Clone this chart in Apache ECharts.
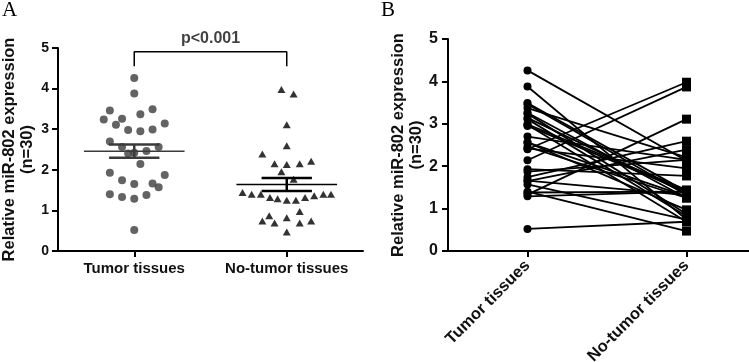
<!DOCTYPE html>
<html>
<head>
<meta charset="utf-8">
<script src="https://cdn.jsdelivr.net/npm/echarts@6/dist/echarts.min.js"></script>
<style>
html, body { margin: 0; padding: 0; background: #fff; }
#main { width: 749px; height: 362px; }
</style>
</head>
<body>
<div id="main"></div>
<script>
// values (30 paired samples)
var categories = ['Tumor tissues', 'No-tumor tissues'];
var tumorValues = [4.26, 3.88, 3.46, 3.49, 3.37, 3.24, 3.26, 3.11, 3.14, 2.98,
                   2.95, 2.99, 2.70, 2.56, 2.40, 2.42, 2.46, 2.56, 2.14, 1.93,
                   1.74, 1.65, 1.66, 1.57, 1.87, 1.40, 1.33, 1.29, 1.38, 0.52];
var normalValues = [2.13, 0.74, 1.32, 1.40, 2.21, 0.87, 1.25, 0.82, 1.36, 0.69,
                    1.40, 1.44, 2.15, 1.29, 3.98, 1.95, 1.25, 0.97, 3.87, 1.77,
                    2.59, 2.39, 1.32, 0.74, 2.15, 0.47, 3.11, 1.40, 1.40, 0.69];
// horizontal scatter offsets in panel A (category units)
var tumorJitter = [0, 0, -0.16, 0.12, 0.04, -0.2, -0.08, -0.12, 0.2, -0.04,
                   0.04, 0.12, -0.16, -0.08, -0.04, 0, 0.08, 0.16, 0.04, -0.16,
                   -0.08, 0, 0.12, 0.16, 0.2, -0.16, -0.08, 0, 0.08, 0];
var normalJitter = [0, -0.16, -0.11, -0.23, 0.16, -0.115, 0, 0, 0.18, -0.08,
                    -0.17, -0.29, -0.08, -0.06, -0.035, -0.035, 0.06, 0.085, 0.045, 0.045,
                    0, -0.16, 0.12, 0.16, 0.085, 0, 0, 0.24, 0.29, 0.085];
var pText = 'p<0.001';
var bracketLevels = [4.55, 4.91];

var myChart = echarts.init(document.getElementById('main'));
var font = 'Liberation Sans, Arial, sans-serif';
var ink = '#111';

function meanSem(arr) {
    var n = arr.length;
    var m = arr.reduce(function (a, b) { return a + b; }, 0) / n;
    var v = arr.reduce(function (a, b) { return a + (b - m) * (b - m); }, 0) / (n - 1);
    return [m, Math.sqrt(v / n)];
}
var stats = [meanSem(tumorValues), meanSem(normalValues)];
var barColors = ['#3a3a3a', '#000'];

function yAxisCfg(grid, tickSize, margin, gap) {
    return {
        gridIndex: grid, type: 'value', min: 0, max: 5, interval: 1,
        name: 'Relative miR-802 expression\n(n=30)',
        nameLocation: 'middle', nameGap: gap,
        nameTextStyle: { fontFamily: font, fontSize: 16.5, fontWeight: 'bold', color: ink, lineHeight: 18 },
        axisLine: { show: true, onZero: false, lineStyle: { color: '#000', width: 2 } },
        axisTick: { show: true, length: 6, lineStyle: { color: '#000', width: 2 } },
        axisLabel: { margin: margin, fontFamily: font, fontSize: tickSize, fontWeight: 'bold', color: ink },
        splitLine: { show: false }
    };
}
function catAxisCfg(grid, rot, size) {
    return {
        gridIndex: grid, type: 'category', data: categories, boundaryGap: true,
        axisLine: { show: true, onZero: false, lineStyle: { color: '#000', width: 2 } },
        axisTick: { show: true, alignWithLabel: true, length: 6, lineStyle: { color: '#000', width: 2 } },
        axisLabel: { margin: rot ? 12 : 10, rotate: rot, interval: 0, fontFamily: font, fontSize: size, fontWeight: 'bold', color: ink },
        splitLine: { show: false }
    };
}

var series = [];
series.push({
    type: 'scatter', xAxisIndex: 1, yAxisIndex: 0, symbol: 'circle', symbolSize: 8,
    itemStyle: { color: '#3c3c3c' },
    data: tumorValues.map(function (v, i) { return [0 + tumorJitter[i], v]; })
});
series.push({
    type: 'scatter', xAxisIndex: 1, yAxisIndex: 0, symbol: 'triangle', symbolSize: [8, 7],
    itemStyle: { color: '#000' },
    data: normalValues.map(function (v, i) { return [1 + normalJitter[i], v]; })
});
series.push({
    type: 'custom', xAxisIndex: 1, yAxisIndex: 0, z: 5,
    data: stats.map(function (s, i) { return [i, s[0], s[1]]; }),
    renderItem: function (params, api) {
        var c = api.value(0), m = api.value(1), s = api.value(2);
        var col = barColors[params.dataIndex];
        function seg(x1, y1, x2, y2, w) {
            var p1 = api.coord([x1, y1]), p2 = api.coord([x2, y2]);
            return { type: 'line', shape: { x1: p1[0], y1: p1[1], x2: p2[0], y2: p2[1] },
                     style: { stroke: col, lineWidth: w } };
        }
        return { type: 'group', children: [
            seg(c - 0.33, m, c + 0.33, m, 1.5),
            seg(c - 0.165, m + s, c + 0.165, m + s, 2.5),
            seg(c - 0.165, m - s, c + 0.165, m - s, 2.5),
            seg(c, m - s, c, m + s, 2.5)
        ] };
    }
});
// significance bracket
series.push({
    type: 'line', xAxisIndex: 1, yAxisIndex: 0, symbol: 'none',
    lineStyle: { color: '#000', width: 1.5 },
    data: [[0, bracketLevels[0]], [0, bracketLevels[1]], [1, bracketLevels[1]], [1, bracketLevels[0]]]
});
series.push({
    type: 'scatter', xAxisIndex: 1, yAxisIndex: 0, symbolSize: 0,
    data: [[0.5, bracketLevels[1]]],
    label: { show: true, position: 'top', distance: 5, formatter: pText,
             fontFamily: font, fontSize: 16, fontWeight: 'bold', color: ink }
});
// panel B: paired lines
for (var i = 0; i < tumorValues.length; i++) {
    series.push({
        type: 'line', xAxisIndex: 2, yAxisIndex: 1,
        lineStyle: { color: '#000', width: 1.8 },
        itemStyle: { color: '#000' },
        data: [
            { value: tumorValues[i], symbol: 'circle', symbolSize: 8 },
            { value: normalValues[i], symbol: 'rect', symbolSize: 9 }
        ]
    });
}

var option = {
    animation: false,
    backgroundColor: '#fff',
    title: [
        { text: 'A', left: 2, top: 0, padding: 0,
          textStyle: { fontFamily: 'Liberation Serif, Times New Roman, serif', fontSize: 21, fontWeight: 'normal', color: '#000' } },
        { text: 'B', left: 381, top: 0, padding: 0,
          textStyle: { fontFamily: 'Liberation Serif, Times New Roman, serif', fontSize: 21, fontWeight: 'normal', color: '#000' } }
    ],
    grid: [
        { left: 58, top: 48, width: 305, height: 203, outerBoundsMode: 'none' },
        { left: 448, top: 39, width: 318, height: 212, outerBoundsMode: 'none' }
    ],
    xAxis: [
        catAxisCfg(0, 0, 15),
        { gridIndex: 0, type: 'value', min: -0.5, max: 1.5, show: false },
        catAxisCfg(1, 45, 16.5)
    ],
    yAxis: [yAxisCfg(0, 14, 9, 22), yAxisCfg(1, 16, 10, 23)],
    series: series
};

myChart.setOption(option);
</script>
</body>
</html>
